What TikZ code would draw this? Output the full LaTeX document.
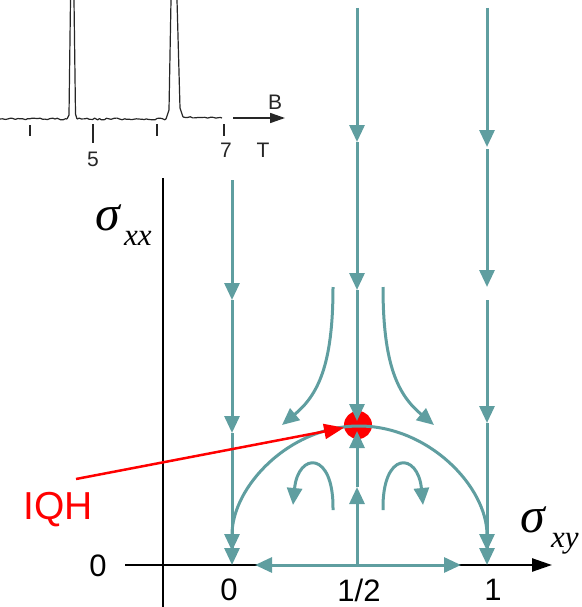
\documentclass[tikz,border=0pt]{standalone}
\usepackage{fontspec}
\setmainfont{Liberation Sans}
\newfontfamily\tnr{Liberation Serif}
\usetikzlibrary{arrows.meta,decorations.pathmorphing}
\definecolor{flowc}{RGB}{95,158,160}
\begin{document}
\begin{tikzpicture}[x=1pt,y=-1pt,
  flow/.style={draw=flowc, line width=3pt, -{Triangle[width=15pt,length=17pt]}},
  ax/.style={draw=black, line width=2.5pt},
  lab/.style={font=\fontsize{31}{31}\selectfont, inner sep=0pt},
  sig/.style={font=\tnr\itshape\fontsize{50}{50}\selectfont, inner sep=0pt},
  sub/.style={font=\tnr\itshape\fontsize{31}{31}\selectfont, inner sep=0pt},
  small/.style={font=\fontsize{21}{21}\selectfont, inner sep=0pt, text=black!85},
  trace/.style={draw=black!85, line width=1.2pt, line join=round}]
\useasboundingbox (0,0) rectangle (581,607);

% ---------- inset plot ----------
\pgfmathsetseed{7}
\draw[trace, decorate, decoration={random steps, segment length=2.5pt, amplitude=0.9pt}] (0,119) -- (67,119);
\draw[trace] (67,119) -- (69,115) -- (70.5,0);
\draw[trace] (74,0) -- (75.5,114) -- (77,119);
\draw[trace, decorate, decoration={random steps, segment length=2.5pt, amplitude=0.9pt}] (77,119) -- (166,119);
\draw[trace] (166,119) -- (169,110) -- (171,0);
\draw[trace] (177,0) -- (180,108) -- (183,117);
\draw[trace, decorate, decoration={random steps, segment length=2.5pt, amplitude=0.7pt}] (183,117) -- (222,118);
\draw[trace] (30,125) -- (30,136);
\draw[trace] (93,124) -- (93,143);
\draw[trace] (157,124) -- (157,136);
\draw[trace] (224,124) -- (224,136);
\node[small] (t5) at (93,159) {5};
\node[small] (t7) at (226,150) {7};
\node[small] (tT) at (263,150) {T};
\node[small] (tB) at (275,102) {B};
\coordinate (barrow0) at (233,118);
\coordinate (barrow1) at (285,118);
\draw[draw=black!85, line width=1.6pt, -{Triangle[width=10pt,length=15pt]}] (barrow0) -- (barrow1);

% ---------- axes ----------
\coordinate (ya0) at (163,178);
\coordinate (ya1) at (163,607);
\coordinate (xa0) at (125,565);
\coordinate (xa1) at (552,565);
\draw[ax] (ya0) -- (ya1);
\draw[ax, -{Triangle[width=13pt,length=20pt]}] (xa0) -- (xa1);

\node[lab] (l0y) at (98,566) {0};
\node[lab] (l0) at (229,590) {0};
\node[lab] (lhalf) at (359,590) {1/2};
\node[lab] (l1) at (493,590) {1};

\node[sig] (sxx) at (108,218) {σ};
\node[sub, anchor=base west] (sxxs) at (124,245) {xx};
\node[sig] (sxy) at (533,520) {σ};
\node[sub, anchor=base west] (sxys) at (551,547) {xy};

% ---------- fixed point ----------
\node[circle, fill=red, minimum size=28pt, inner sep=0pt] (fp) at (358,425) {};

% ---------- flow lines ----------
% left column (sigma_xy = 0)
\coordinate (L0) at (232,180);
\coordinate (L1) at (232,300);
\coordinate (L2) at (232,433);
\coordinate (L3) at (232,565);
\draw[flow] (L0) -- (L1);
\draw[flow] (L1) -- (L2);
\draw[flow] (L2) -- (L3);
% middle column (sigma_xy = 1/2)
\coordinate (M0) at (357,8);
\coordinate (M1) at (357,142);
\coordinate (M2) at (357,290);
\coordinate (M3) at (357,421);
\coordinate (M4) at (357,431);
\coordinate (M5) at (357,487);
\coordinate (M6) at (357,565);
\draw[flow] (M0) -- (M1);
\draw[flow] (M1) -- (M2);
\draw[flow] (M2) -- (M3);
\draw[flow] (M6) -- (M5);
\draw[flow] (M5) -- (M4);
% right column (sigma_xy = 1)
\coordinate (R0) at (487,8);
\coordinate (R1) at (487,147);
\coordinate (R2) at (487,149);
\coordinate (R3) at (487,287);
\coordinate (R4) at (487,300);
\coordinate (R5) at (487,423);
\coordinate (R6) at (487,565);
\draw[flow] (R0) -- (R1);
\draw[flow] (R2) -- (R3);
\draw[flow] (R4) -- (R5);
\draw[flow] (R5) -- (R6);
% horizontal along the axis
\coordinate (H0) at (357,565);
\coordinate (HL) at (255,565);
\coordinate (HR) at (461,565);
\draw[flow] (H0) -- (HL);
\draw[flow] (H0) -- (HR);
% separatrix arc
\coordinate (Top) at (359,426);
\draw[flow, shorten >=14pt] (Top) .. controls (289,426) and (232,487) .. (L3);
\draw[flow, shorten >=14pt] (Top) .. controls (429,426) and (487,487) .. (R6);
% upper curved arrows
\coordinate (UL0) at (333,287);
\coordinate (UL1) at (282,425);
\coordinate (UR0) at (383,287);
\coordinate (UR1) at (434,425);
\draw[flow] (UL0) .. controls (333,365) and (318,395) .. (UL1);
\draw[flow] (UR0) .. controls (383,365) and (398,395) .. (UR1);
% lower hooks
\coordinate (DL0) at (333,510);
\coordinate (DL1) at (293,505);
\coordinate (DR0) at (383,510);
\coordinate (DR1) at (423,505);
\draw[flow] (DL0) .. controls (334,450) and (298,452) .. (DL1);
\draw[flow] (DR0) .. controls (382,450) and (418,452) .. (DR1);

% ---------- IQH label ----------
\node[text=red, font=\fontsize{39}{39}\selectfont, inner sep=0pt] (iqh) at (58,510) {IQH};
\coordinate (rs) at (76,479);
\draw[draw=red, line width=2.5pt, -{Triangle[width=15pt,length=20pt]}] (rs) -- (fp);
\end{tikzpicture}
\end{document}
